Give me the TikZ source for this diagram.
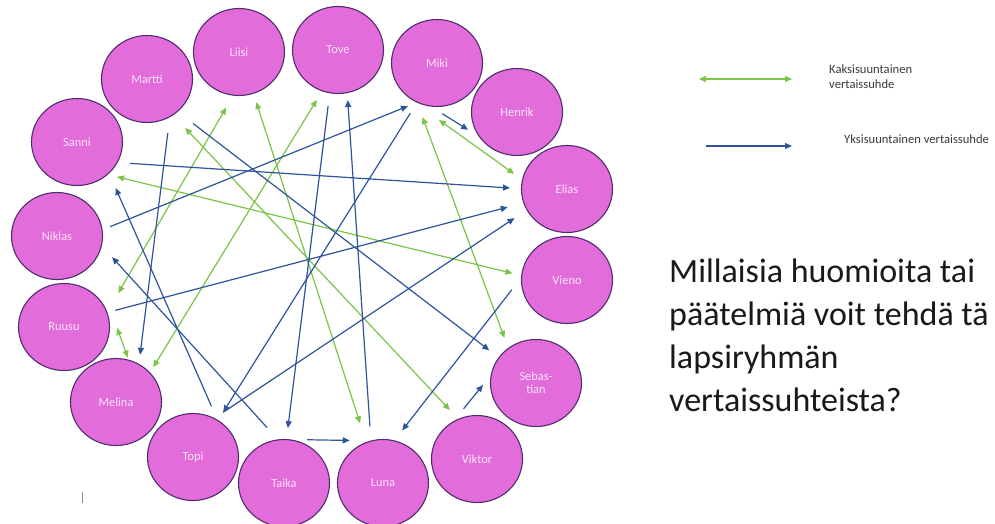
\documentclass[tikz,border=0pt]{standalone}
\usepackage{fontspec}
\setmainfont{Carlito}
\usetikzlibrary{arrows.meta,calc,shapes.geometric}
\definecolor{kidfill}{RGB}{227,108,219}
\definecolor{kidline}{RGB}{78,45,110}
\definecolor{kidtext}{RGB}{252,228,249}
\definecolor{twoway}{RGB}{122,196,72}
\definecolor{oneway}{RGB}{46,84,156}
\definecolor{qtext}{RGB}{25,25,25}
\tikzstyle{kid}=[ellipse,draw=kidline,fill=kidfill,line width=1.1pt,minimum width=91pt,minimum height=87pt,inner sep=0pt,text=kidtext,font=\fontsize{12.4}{13}\selectfont,align=center]
\tikzstyle{uni}=[draw=oneway,line width=1.2pt,-{Triangle[length=7pt,width=6pt]}]
\tikzstyle{bi}=[draw=twoway,line width=1.2pt,{Triangle[length=7pt,width=6pt]}-{Triangle[length=7pt,width=6pt]}]
\tikzstyle{legend}=[anchor=base west,inner sep=0pt,text=qtext!85,font=\fontsize{12.6}{14.3}\selectfont,align=left]
\tikzstyle{question}=[anchor=base west,inner sep=0pt,text=qtext,font=\fontsize{34}{43}\selectfont,align=left]

\begin{document}
\begin{tikzpicture}[x=1pt,y=1pt]
\path[fill=white,use as bounding box] (0,0) rectangle (995,-523);

% the children
\node[kid] (Liisi) at (239,-52) {Liisi};
\node[kid] (Martti) at (147,-79) {Martti};
\node[kid] (Sanni) at (77,-142) {Sanni};
\node[kid] (Niklas) at (57,-236) {Niklas};
\node[kid] (Ruusu) at (64,-327) {Ruusu};
\node[kid] (Melina) at (116,-402) {Melina};
\node[kid] (Topi) at (193,-457) {Topi};
\node[kid] (Taika) at (284,-483) {Taika};
\node[kid] (Luna) at (383,-483) {Luna};
\node[kid] (Viktor) at (477,-459) {Viktor};
\node[kid] (Sebastian) at (536,-383) {Sebas-\\tian};
\node[kid] (Vieno) at (567,-280) {Vieno};
\node[kid] (Elias) at (567,-189) {Elias};
\node[kid] (Henrik) at (517,-112) {Henrik};
\node[kid] (Miki) at (437,-63) {Miki};
\node[kid] (Tove) at (338,-50) {Tove};

% two-way relations
\draw[bi] ($(Liisi)+(-103:57)$) -- ($(Ruusu)+(32:64)$);
\draw[bi] ($(Liisi)+(-71:53)$) -- ($(Luna)+(111:64)$);
\draw[bi] ($(Tove)+(-113:54)$) -- ($(Melina)+(43:51)$);
\draw[bi] ($(Martti)+(-52:62)$) -- ($(Viktor)+(119:56)$);
\draw[bi] ($(Sanni)+(-41:53)$) -- ($(Vieno)+(173:55)$);
\draw[bi] ($(Miki)+(-88:57)$) -- ($(Elias)+(164:55)$);
\draw[bi] ($(Miki)+(-105:56)$) -- ($(Sebastian)+(125:55)$);
\draw[bi] ($(Ruusu)+(-1:53)$) -- ($(Melina)+(75:46)$);

% one-way relations
\draw[uni] ($(Martti)+(-69:58)$) -- ($(Melina)+(63:53)$);
\draw[uni] ($(Martti)+(-44:64)$) -- ($(Sebastian)+(145:57)$);
\draw[uni] ($(Sanni)+(-22:57)$) -- ($(Elias)+(179:57)$);
\draw[uni] ($(Niklas)+(10:54)$) -- ($(Miki)+(-124:52)$);
\draw[uni] ($(Topi)+(70:54)$) -- ($(Sanni)+(-50:60)$);
\draw[uni] ($(Taika)+(107:58)$) -- ($(Niklas)+(-21:59)$);
\draw[uni] ($(Tove)+(-100:57)$) -- ($(Taika)+(86:55)$);
\draw[uni] ($(Luna)+(103:58)$) -- ($(Tove)+(-79:51)$);
\draw[uni] ($(Miki)+(-118:57)$) -- ($(Topi)+(56:54)$);
\draw[uni] ($(Miki)+(-84:51)$) -- ($(Henrik)+(-160:52)$);
\draw[uni] ($(Ruusu)+(18:54)$) -- ($(Elias)+(-163:62)$);
\draw[uni] ($(Topi)+(56:54)$) -- ($(Elias)+(-151:60)$);
\draw[uni] ($(Vieno)+(-170:56)$) -- ($(Luna)+(70:56)$);
\draw[uni] ($(Taika)+(62:49)$) -- ($(Luna)+(128:54)$);
\draw[uni] ($(Viktor)+(105:52)$) -- ($(Sebastian)+(-178:53)$);

% stray mark
\draw[draw=twoway!40!gray,line width=0.9pt] (82,-492) -- (82,-503);

% legend
\coordinate (twoA) at (699,-79);
\coordinate (twoB) at (792,-79);
\coordinate (oneA) at (706,-146);
\coordinate (oneB) at (792,-146);
\draw[bi] (twoA) -- (twoB);
\draw[uni] (oneA) -- (oneB);
\node[legend] (twolabel) at (829,-88) {Kaksisuuntainen\\vertaissuhde};
\node[legend] (onelabel) at (844,-143) {Yksisuuntainen vertaissuhde};

% question
\node[question] (question) at (669,-411) {Millaisia huomioita tai\\päätelmiä voit tehdä tä\\lapsiryhmän\\vertaissuhteista?};
\end{tikzpicture}
\end{document}
